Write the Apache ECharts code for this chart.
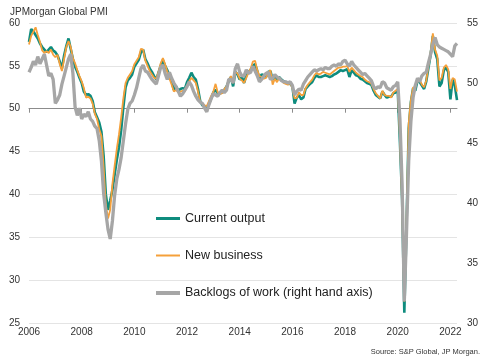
<!DOCTYPE html>
<html><head><meta charset="utf-8">
<script src="https://cdn.jsdelivr.net/npm/echarts@6/dist/echarts.min.js"></script>
<style>html,body{margin:0;padding:0;background:#fff}#c{width:489px;height:359px}</style>
</head><body><div id="c"></div>
<script>
const startYear = 2006;               // first monthly observation: Jan 2006
const yearTicks = [2006, 2008, 2010, 2012, 2014, 2016, 2018, 2020, 2022];
const seriesNames = ['Current output', 'New business', 'Backlogs of work (right hand axis)'];

// JPMorgan Global PMI, monthly, Jan 2006 - Apr 2022 (left axis)
const currentOutput = [
  57.8, 59.3, 59.0, 58.6, 58.2, 57.6, 57.2, 56.9, 56.6, 56.9, 57.2, 56.8,
  56.6, 56.2, 55.5, 54.7, 56.2, 57.3, 58.2, 57.0, 55.8, 54.9, 54.3, 53.6,
  53.0, 52.0, 51.6, 51.7, 51.5, 50.9, 49.6, 49.0, 48.4, 47.3, 44.5, 40.0,
  38.2, 39.3, 40.5, 42.3, 44.0, 45.5, 47.5, 50.2, 52.5, 53.3, 53.6, 54.0,
  54.9, 55.3, 55.7, 56.6, 56.9, 55.8, 55.3, 54.7, 54.3, 53.8, 53.4, 54.2,
  55.0, 55.7, 55.0, 54.5, 53.9, 53.2, 52.2, 52.6, 52.1, 52.3, 52.4, 52.3,
  53.1, 53.6, 54.2, 53.7, 53.4, 52.3, 50.9, 50.4, 50.2, 50.0, 50.6, 51.2,
  51.9, 52.2, 51.8, 51.8, 51.9, 52.2, 52.6, 53.2, 53.7, 52.6, 54.3, 54.0,
  53.4, 53.7, 53.0, 53.9, 54.3, 54.5, 55.0, 55.2, 54.4, 53.5, 54.0, 53.9,
  53.7, 54.3, 54.4, 53.4, 53.6, 53.5, 53.7, 53.4, 53.2, 53.1, 53.0, 52.9,
  52.6, 50.6, 51.3, 51.6, 51.1, 51.3, 52.3, 52.6, 52.9, 53.1, 53.6, 53.9,
  53.7, 53.7, 53.8, 53.9, 53.8, 53.7, 53.8, 54.0, 54.1, 54.3, 54.5, 54.4,
  54.5, 54.6, 53.7, 54.5, 54.2, 53.9, 53.8, 53.5, 53.4, 53.2, 53.0, 52.9,
  52.8, 52.1, 51.6, 51.4, 51.2, 52.0, 51.6, 51.3, 51.4, 51.4, 51.8, 51.9,
  52.2, 46.1, 39.4, 26.2, 36.3, 47.7, 50.8, 52.4, 52.1, 53.3, 53.1, 52.7,
  52.3, 53.2, 54.8, 56.3, 58.5, 56.6, 55.8, 52.6, 53.0, 54.5, 54.8, 54.3,
  51.1, 53.4, 52.7, 51.0
];
const newBusiness = [
  57.5, 58.5, 59.0, 59.5, 58.6, 57.8, 56.8, 56.5, 56.7, 56.5, 56.9, 56.3,
  56.0, 56.3, 55.2, 54.4, 55.8, 57.2, 57.9, 57.2, 55.9, 55.3, 54.5, 53.8,
  53.2, 52.4, 51.3, 51.4, 51.2, 50.6, 49.4, 48.8, 47.6, 46.8, 43.2, 38.8,
  37.2, 38.2, 41.2, 43.3, 45.3, 47.0, 49.0, 51.2, 53.0, 53.6, 54.0, 54.4,
  55.2, 55.6, 56.0, 57.0, 56.9, 55.6, 55.0, 54.4, 54.0, 53.6, 53.5, 54.3,
  55.3, 55.9, 55.2, 54.3, 53.5, 52.8, 52.0, 52.2, 51.9, 52.0, 52.1, 52.0,
  52.7, 53.2, 53.6, 53.3, 53.0, 52.0, 50.8, 50.6, 50.4, 50.3, 50.9, 51.5,
  52.0, 52.9, 51.9, 51.7, 51.8, 52.3, 52.6, 53.3, 53.8, 53.0, 54.3, 54.1,
  53.5, 53.3, 53.0, 53.6, 54.2, 54.7, 55.5, 55.6, 54.5, 53.8, 53.7, 53.5,
  53.6, 54.2, 54.5, 52.8, 53.5, 53.1, 53.6, 53.3, 53.0, 52.9, 52.8, 53.0,
  52.4, 51.2, 51.3, 51.9, 51.6, 51.6, 52.4, 52.8, 53.1, 53.4, 53.9, 54.2,
  54.0, 54.1, 54.3, 54.2, 54.1, 54.0, 54.2, 54.4, 54.6, 54.8, 54.8, 54.9,
  54.9, 55.0, 54.3, 54.8, 54.5, 54.2, 54.0, 53.8, 53.7, 53.4, 53.2, 53.1,
  52.9, 52.3, 51.8, 51.5, 51.2, 52.1, 51.6, 51.5, 51.5, 51.3, 51.9, 52.1,
  52.3, 46.8, 39.0, 27.5, 36.8, 48.3, 51.0, 52.5, 52.5, 53.4, 53.4, 52.8,
  52.5, 53.3, 55.0, 56.6, 58.8, 56.9, 56.2, 53.3, 53.6, 54.8, 55.1, 54.6,
  52.3, 53.6, 53.4, 52.0
];
// right axis
const backlogs = [
  50.9, 51.3, 51.8, 51.5, 52.2, 51.6, 52.0, 52.4, 51.5, 50.6, 50.8, 50.3,
  48.3, 48.6, 49.0, 49.9, 50.6, 51.3, 52.0, 52.4, 50.8, 48.0, 47.3, 47.9,
  47.0, 47.4, 47.2, 47.6, 47.0, 46.8, 46.4, 46.2, 45.2, 43.5, 40.8, 39.2,
  37.8, 37.0, 38.5, 40.6, 42.0, 42.8, 43.8, 45.2, 46.6, 47.8, 48.3, 48.5,
  49.0, 49.6, 50.4, 51.2, 51.5, 51.0, 50.9, 50.6, 50.3, 50.1, 49.9, 50.6,
  51.3, 51.5, 50.8, 50.3, 50.9, 50.4, 50.0, 49.7, 49.3, 48.9, 49.1, 49.4,
  49.7, 50.1, 49.8, 49.3, 48.9, 48.6, 48.4, 48.3, 47.9, 47.6, 48.2, 48.7,
  49.1, 49.0, 48.9, 49.2, 49.4, 49.2, 49.4, 50.3, 50.3, 50.0, 51.2, 51.6,
  50.9, 50.6, 50.6, 51.1, 50.8, 50.9, 51.4, 51.0, 50.6, 50.1, 50.3, 50.6,
  50.8, 50.9, 50.3, 50.4, 50.7, 50.5, 50.4, 50.2, 50.1, 50.1, 50.0, 50.1,
  49.8, 49.0, 49.3, 49.5, 49.4, 49.9, 50.2, 50.5, 50.7, 50.9, 51.1, 51.0,
  51.1, 51.2, 51.1, 51.3, 51.2, 51.2, 51.4, 51.5, 51.4, 51.6, 51.5, 51.8,
  51.9, 51.6, 51.4, 51.8, 51.5, 51.3, 51.1, 50.9, 50.7, 50.8, 50.6, 50.4,
  50.2, 49.7, 49.5, 49.7, 49.6, 50.1, 50.0, 49.6, 49.5, 49.4, 49.7, 49.8,
  50.1, 47.0, 41.5, 31.8, 37.5, 43.5, 46.8, 48.8, 49.8, 50.4, 50.1, 50.6,
  50.8, 50.9, 51.7, 52.4, 53.2, 53.8, 53.2, 53.0, 52.9, 52.8, 52.7, 52.6,
  52.4, 52.2, 53.1, 53.3
];

function toPoints(arr) { return arr.map((v, i) => [startYear + i / 12, v]); }
const xMax = startYear + (currentOutput.length - 1) / 12;

const FONT = '"Liberation Sans", Arial, sans-serif';
const TXT = '#333333';
const colors = ['#0e8c7e', '#f5a03a', '#a6a6a6'];
const widths = [2.6, 1.8, 3.3];
const legendThick = [3, 2, 4];
const legendRowTops = [212, 249, 286.5];

const chart = echarts.init(document.getElementById('c'), null, { renderer: 'canvas' });

const legends = seriesNames.map((name, i) => ({
  orient: 'vertical', left: 156, top: legendRowTops[i],
  padding: 0, itemWidth: 24, itemHeight: legendThick[i], icon: 'rect',
  selectedMode: false,
  textStyle: { fontSize: 12.5, color: '#222', fontFamily: FONT },
  data: [name]
}));

const option = {
  animation: false,
  textStyle: { fontFamily: FONT },
  title: [
    { text: 'JPMorgan Global PMI', left: 10, top: 7, padding: 0,
      textStyle: { fontSize: 10, fontWeight: 'normal', color: TXT, fontFamily: FONT } },
    { text: 'Source: S&P Global, JP Morgan.', right: 9, top: 348, padding: 0,
      textStyle: { fontSize: 7.5, fontWeight: 'normal', color: TXT, fontFamily: FONT } }
  ],
  grid: [
    { left: 29, right: 32, top: 23, bottom: 36 },
    { left: 29, right: 32, top: 23, height: 85.71 }
  ],
  xAxis: [
    { gridIndex: 0, type: 'value', min: startYear, max: xMax,
      axisLine: { show: false }, axisTick: { show: false }, splitLine: { show: false },
      axisLabel: { customValues: yearTicks, formatter: v => String(Math.round(v)),
                   fontSize: 10, color: TXT, margin: 4, fontFamily: FONT } },
    { gridIndex: 1, type: 'value', min: startYear, max: xMax,
      axisLine: { show: true, lineStyle: { color: '#8c8c8c', width: 1 } },
      axisTick: { show: true, customValues: yearTicks, length: 4, lineStyle: { color: '#8c8c8c' } },
      axisLabel: { show: false }, splitLine: { show: false } }
  ],
  yAxis: [
    { gridIndex: 0, type: 'value', min: 25, max: 60, interval: 5, position: 'left',
      axisLine: { show: false }, axisTick: { show: false },
      axisLabel: { fontSize: 10, color: TXT, margin: 9, fontFamily: FONT },
      splitLine: { show: true, lineStyle: { color: '#e4e4e4', width: 1 } } },
    { gridIndex: 0, type: 'value', min: 30, max: 55, interval: 5, position: 'right',
      axisLine: { show: false }, axisTick: { show: false },
      axisLabel: { fontSize: 10, color: TXT, margin: 10, fontFamily: FONT },
      splitLine: { show: false } },
    { gridIndex: 1, type: 'value', min: 0, max: 1, show: false }
  ],
  legend: legends,
  series: [
    { name: seriesNames[0], type: 'line', xAxisIndex: 0, yAxisIndex: 0,
      data: toPoints(currentOutput), showSymbol: false, symbol: 'none',
      lineStyle: { color: colors[0], width: widths[0] }, itemStyle: { color: colors[0] }, z: 2 },
    { name: seriesNames[1], type: 'line', xAxisIndex: 0, yAxisIndex: 0,
      data: toPoints(newBusiness), showSymbol: false, symbol: 'none',
      lineStyle: { color: colors[1], width: widths[1] }, itemStyle: { color: colors[1] }, z: 3 },
    { name: seriesNames[2], type: 'line', xAxisIndex: 0, yAxisIndex: 1,
      data: toPoints(backlogs), showSymbol: false, symbol: 'none',
      lineStyle: { color: colors[2], width: widths[2] }, itemStyle: { color: colors[2] }, z: 4 }
  ]
};
chart.setOption(option);
</script>
</body></html>
